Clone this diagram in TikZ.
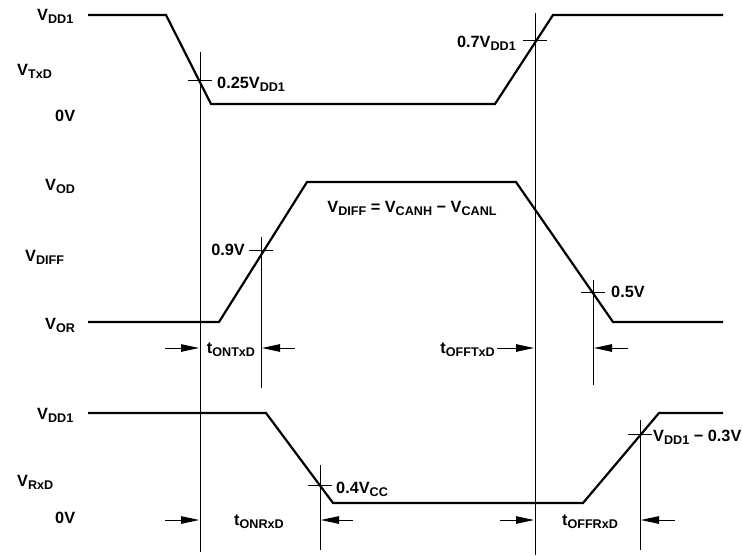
\documentclass[tikz,border=0pt]{standalone}
\usepackage{fontspec}
\setmainfont{Liberation Sans}
\usepackage{tikz}
\usetikzlibrary{arrows.meta,positioning,calc}

\newcommand{\lo}[1]{\raisebox{-0.35ex}{\fontsize{12.6}{13}\selectfont #1}}

\begin{document}
\begin{tikzpicture}[x=1pt, y=-1pt]
	\tikzstyle{wave} = [line width=2.2pt, line join=miter]
	\tikzstyle{refline} = [line width=0.8pt]
	\tikzstyle{lab} = [inner sep=0pt, font=\fontsize{16.3}{18}\selectfont\bfseries]
	\tikzstyle{dim} = [line width=0.9pt, -{Triangle[length=18pt, width=7.5pt]}]

	\useasboundingbox (0,0) rectangle (742,555);

	% TxD
	\coordinate (t0) at (88,15);
	\coordinate (t1) at (166,15);
	\coordinate (t2) at (211,104);
	\coordinate (t3) at (495,104);
	\coordinate (t4) at (553,15);
	\coordinate (t5) at (723,15);
	\draw[wave] (t0) -- (t1) -- (t2) -- (t3) -- (t4) -- (t5);

	% DIFF
	\coordinate (d0) at (88,322);
	\coordinate (d1) at (219,322);
	\coordinate (d2) at (307,182);
	\coordinate (d3) at (516,182);
	\coordinate (d4) at (613,322);
	\coordinate (d5) at (723,322);
	\draw[wave] (d0) -- (d1) -- (d2) -- (d3) -- (d4) -- (d5);

	% RxD
	\coordinate (r0) at (88,413);
	\coordinate (r1) at (266,413);
	\coordinate (r2) at (333,503);
	\coordinate (r3) at (583,503);
	\coordinate (r4) at (659,413);
	\coordinate (r5) at (723,413);
	\draw[wave] (r0) -- (r1) -- (r2) -- (r3) -- (r4) -- (r5);

	% reference lines
	\coordinate (v1a) at (200,52);   \coordinate (v1b) at (200,552);
	\coordinate (v2a) at (535,13);   \coordinate (v2b) at (535,555);
	\coordinate (v3a) at (261,237);  \coordinate (v3b) at (261,388);
	\coordinate (v4a) at (593,280);  \coordinate (v4b) at (593,385);
	\coordinate (v5a) at (320,465);  \coordinate (v5b) at (320,550);
	\coordinate (v6a) at (640,420);  \coordinate (v6b) at (640,550);
	\foreach \v in {1,...,6}
		\draw[refline] (v\v a) -- (v\v b);

	% crossing points
	\coordinate (c1) at (200,80);
	\coordinate (c2) at (535,40);
	\coordinate (c3) at (261,250);
	\coordinate (c4) at (593,292);
	\coordinate (c5) at (320,485);
	\coordinate (c6) at (640,434);
	\foreach \c in {1,...,6}
		\draw[refline] ([xshift=-12pt]c\c) -- ([xshift=12pt]c\c);

	% level labels
	\node[lab, anchor=west](vdd1a) at (37,16) {V\lo{DD1}};
	\node[lab, anchor=west](vtxd) at (17,71) {V\lo{TxD}};
	\node[lab, anchor=west](zero1) at (55,116) {0V};
	\node[lab, anchor=west](vod) at (45,186) {V\lo{OD}};
	\node[lab, anchor=west](vdiff) at (25,257) {V\lo{DIFF}};
	\node[lab, anchor=west](vor) at (45,325) {V\lo{OR}};
	\node[lab, anchor=west](vdd1b) at (37,415) {V\lo{DD1}};
	\node[lab, anchor=west](vrxd) at (17,482) {V\lo{RxD}};
	\node[lab, anchor=west](zero2) at (55,518) {0V};

	% threshold labels
	\node[lab, anchor=west](l1) at (217,84) {0.25V\lo{DD1}};
	\node[lab, anchor=east](l2) at (516,43) {0.7V\lo{DD1}};
	\node[lab, anchor=east](l3) at (245,250) {0.9V};
	\node[lab, anchor=west](l4) at (611,292) {0.5V};
	\node[lab, anchor=west](l5) at (336,489) {0.4V\lo{CC}};
	\node[lab, anchor=west](l6) at (653,437) {V\lo{DD1} − 0.3V};
	\node[lab](eq) at (412,208) {V\lo{DIFF} = V\lo{CANH} − V\lo{CANL}};

	% timing arrows
	\coordinate (a1) at (165,348);  \coordinate (a1e) at (199,348);
	\coordinate (a2) at (295,348);  \coordinate (a2e) at (262,348);
	\coordinate (a3) at (497,348);  \coordinate (a3e) at (534,348);
	\coordinate (a4) at (628,348);  \coordinate (a4e) at (594,348);
	\coordinate (b1) at (165,520);  \coordinate (b1e) at (199,520);
	\coordinate (b2) at (353,520);  \coordinate (b2e) at (321,520);
	\coordinate (b3) at (500,520);  \coordinate (b3e) at (534,520);
	\coordinate (b4) at (675,520);  \coordinate (b4e) at (641,520);
	\foreach \a in {a1,a2,a3,a4,b1,b2,b3,b4}
		\draw[dim] (\a) -- (\a e);

	\node[lab](ton1) at (231,350) {t\lo{ONTxD}};
	\node[lab, anchor=east](toff1) at (495,350) {t\lo{OFFTxD}};
	\node[lab](ton2) at (259,522) {t\lo{ONRxD}};
	\node[lab](toff2) at (590,522) {t\lo{OFFRxD}};
\end{tikzpicture}
\end{document}
